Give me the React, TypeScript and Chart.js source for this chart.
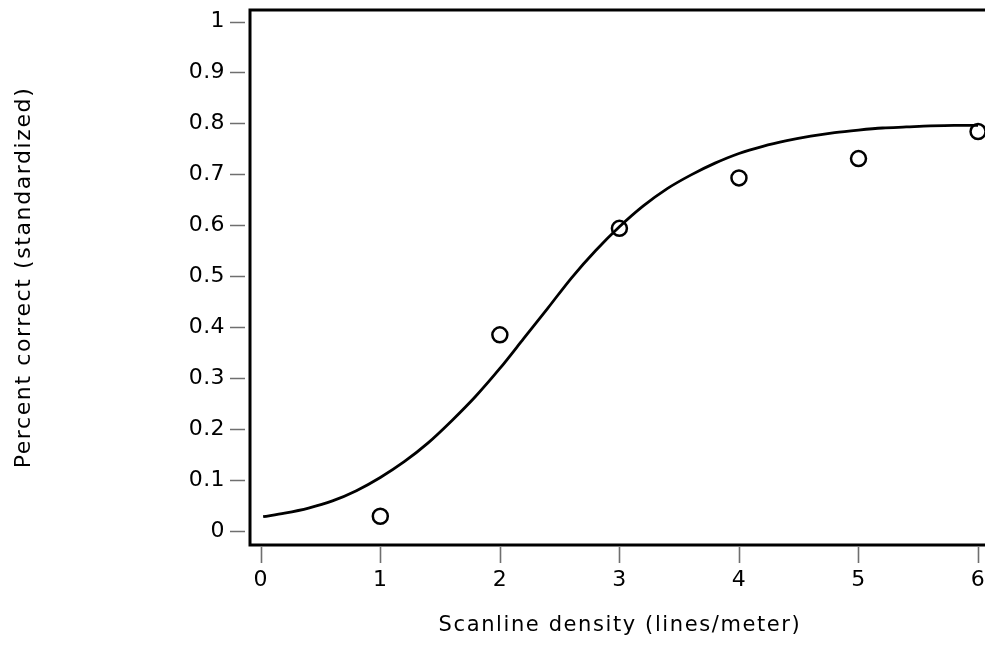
import React, { useEffect, useRef } from "react";
import { Chart, registerables } from "chart.js";

Chart.register(...registerables);

// Fitted curve
const curveX = [0.02, 0.2, 0.4, 0.6, 0.8, 1.0, 1.2, 1.4, 1.6, 1.8, 2.0, 2.2, 2.4, 2.6, 2.8, 3.0, 3.2, 3.4, 3.6, 3.8, 4.0, 4.2, 4.4, 4.6, 4.8, 5.0, 5.2, 5.4, 5.6, 5.8, 6.0];
const curveY = [0.028, 0.035, 0.045, 0.059, 0.079, 0.105, 0.136, 0.173, 0.217, 0.265, 0.319, 0.378, 0.437, 0.497, 0.55, 0.597, 0.638, 0.672, 0.699, 0.722, 0.741, 0.755, 0.766, 0.775, 0.782, 0.787, 0.791, 0.793, 0.795, 0.796, 0.796];

// Observed points
const obsX = [1, 2, 3, 4, 5, 6];
const obsY = [0.029, 0.385, 0.594, 0.693, 0.731, 0.784];

const xTicks = [0, 1, 2, 3, 4, 5, 6];
const yTicks = [0, 0.1, 0.2, 0.3, 0.4, 0.5, 0.6, 0.7, 0.8, 0.9, 1];

const xTitle = "Scanline density (lines/meter)";
const yTitle = "Percent correct (standardized)";

const W = 1000;
const H = 645;
const FONT = "'DejaVu Sans', Verdana, sans-serif";

export default function App() {
  const ref = useRef<HTMLCanvasElement | null>(null);

  useEffect(() => {
    if (!ref.current) return;

    const spacingPlugin = {
      id: "spacing",
      beforeDraw(chart: any) {
        const ctx = chart.ctx as any;
        try {
          ctx.letterSpacing = "1.6px";
        } catch (e) {}
        for (const id of ["x", "y"]) {
          const s = chart.scales[id];
          if (s && !s.__patched) {
            const orig = s.drawLabels.bind(s);
            s.drawLabels = (ca: any) => {
              const prev = ctx.letterSpacing;
              try {
                ctx.letterSpacing = "0.4px";
              } catch (e) {}
              orig(ca);
              try {
                ctx.letterSpacing = prev;
              } catch (e) {}
            };
            s.__patched = true;
          }
        }
      },
    };

    const framePlugin = {
      id: "frame",
      afterDraw(chart: any) {
        const { ctx, chartArea } = chart;
        const { left, right, top, bottom } = chartArea;
        ctx.save();
        ctx.strokeStyle = "#6f6f6f";
        ctx.lineWidth = 1.6;
        const xs = chart.scales.x;
        const ys = chart.scales.y;
        ctx.beginPath();
        for (const v of yTicks) {
          const py = Math.round(ys.getPixelForValue(v)) + 0.5;
          ctx.moveTo(left - 20, py);
          ctx.lineTo(left - 5, py);
        }
        for (const v of xTicks) {
          const px = Math.round(xs.getPixelForValue(v)) + 0.5;
          ctx.moveTo(px, bottom + 2);
          ctx.lineTo(px, bottom + 18);
        }
        ctx.stroke();
        ctx.strokeStyle = "#000000";
        ctx.lineWidth = 3;
        ctx.strokeRect(left, top, right - left, bottom - top);
        ctx.restore();
      },
    };

    const chart = new Chart(ref.current, {
      type: "scatter",
      data: {
        datasets: [
          {
            label: "fit",
            data: curveX.map((x, i) => ({ x, y: curveY[i] })),
            showLine: true,
            borderColor: "#000000",
            borderWidth: 2.8,
            pointRadius: 0,
            cubicInterpolationMode: "monotone",
            fill: false,
          } as any,
          {
            label: "observed",
            data: obsX.map((x, i) => ({ x, y: obsY[i] })),
            showLine: false,
            pointStyle: "circle",
            pointRadius: 7.5,
            pointBorderWidth: 2.5,
            pointBorderColor: "#000000",
            pointBackgroundColor: "rgba(0,0,0,0)",
            borderColor: "#000000",
            backgroundColor: "rgba(0,0,0,0)",
          } as any,
        ],
      },
      options: {
        responsive: false,
        animation: false,
        events: [],
        layout: { padding: { left: 0, top: 10, right: 9, bottom: 0 } },
        plugins: {
          legend: { display: false },
          tooltip: { enabled: false },
        },
        scales: {
          x: {
            type: "linear",
            min: -0.09,
            max: 6.1,
            afterBuildTicks: (s: any) => {
              s.ticks = xTicks.map((v) => ({ value: v }));
            },
            afterFit: (s: any) => {
              s.height = 100;
            },
            grid: {
              display: true,
              drawOnChartArea: false,
              drawTicks: true,
              tickLength: 25,
              color: "rgba(0,0,0,0)",
            },
            border: { display: false },
            ticks: {
              color: "#000000",
              font: { family: FONT, size: 22, lineHeight: 0.9 },
              padding: 0,
              maxRotation: 0,
              autoSkip: false,
              callback: (v: any) => String(v),
            },
            title: {
              display: true,
              text: xTitle,
              color: "#000000",
              font: { family: FONT, size: 21 },
              padding: { top: 0, bottom: 7 },
            },
          },
          y: {
            type: "linear",
            min: -0.0275,
            max: 1.0226,
            afterBuildTicks: (s: any) => {
              s.ticks = yTicks.map((v) => ({ value: v }));
            },
            afterFit: (s: any) => {
              s.width = 250;
            },
            grid: {
              display: true,
              drawOnChartArea: false,
              drawTicks: true,
              tickLength: 25,
              color: "rgba(0,0,0,0)",
            },
            border: { display: false },
            ticks: {
              color: "#000000",
              font: { family: FONT, size: 22, lineHeight: 0.9 },
              padding: 0,
              autoSkip: false,
              callback: (v: any) => String(v),
            },
            title: {
              display: true,
              text: yTitle,
              color: "#000000",
              font: { family: FONT, size: 22 },
              padding: { top: 11, bottom: 0 },
            },
          },
        },
      },
      plugins: [spacingPlugin, framePlugin],
    });

    return () => chart.destroy();
  }, []);

  return (
    <div
      style={{
        position: "fixed",
        left: 0,
        top: 0,
        width: 985,
        height: 645,
        overflow: "hidden",
        background: "#ffffff",
      }}
    >
      <canvas ref={ref} width={W} height={H} style={{ width: W, height: H, display: "block" }} />
    </div>
  );
}
